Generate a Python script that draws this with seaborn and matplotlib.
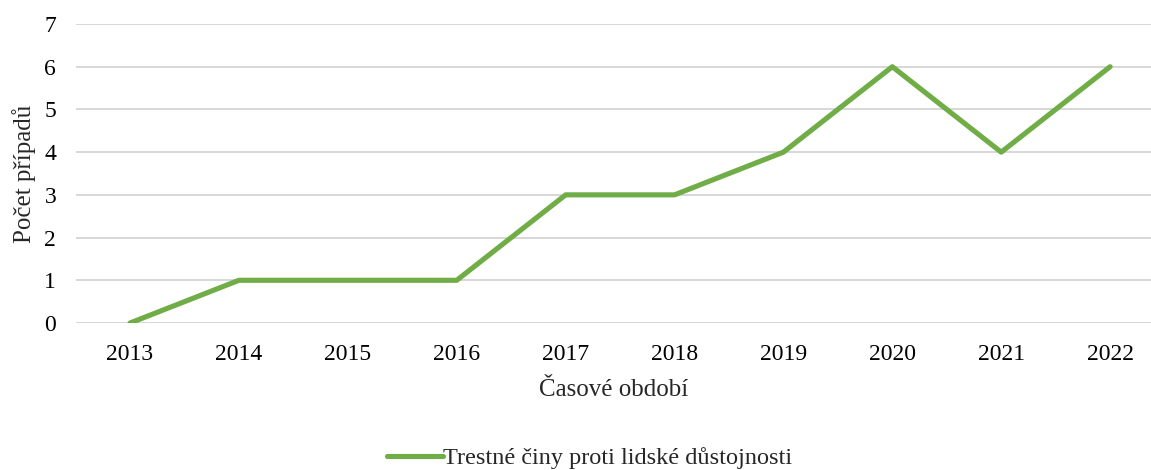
import pandas as pd
import matplotlib.pyplot as plt
import seaborn as sns
from matplotlib.lines import Line2D

# Data
years = ['2013', '2014', '2015', '2016', '2017', '2018', '2019', '2020', '2021', '2022']
cases = [0, 1, 1, 1, 3, 3, 4, 6, 4, 6]
series_name = 'Trestné činy proti lidské důstojnosti'

df = pd.DataFrame({'rok': years, 'pocet': cases, 'serie': series_name})

sns.set_style('white')
plt.rcParams['font.family'] = ['Liberation Serif', 'DejaVu Serif']

fig = plt.figure(figsize=(11.51, 4.70), dpi=100)
ax = fig.add_axes([75.6 / 1151, 1 - 323 / 470, (1151 - 75.6) / 1151, (323 - 24) / 470])

sns.lineplot(data=df, x='rok', y='pocet', hue='serie', palette=['#70AD47'],
             linewidth=3.7, ax=ax, legend=False, solid_capstyle='round')

ax.set_xlim(-0.5, (1151 - 130) / 108.9)
ax.set_ylim(0, 7)
ax.set_yticks(range(0, 8))
ax.yaxis.grid(True, color='#D4D4D4', linewidth=1.3)
ax.set_axisbelow(True)
for s in ax.spines.values():
    s.set_visible(False)
ax.tick_params(axis='both', length=0, labelsize=17, colors='black')
ax.tick_params(axis='x', pad=15)
ax.tick_params(axis='y', pad=14)

ax.set_xlabel('Časové období', fontsize=18, labelpad=10)
ax.set_ylabel('Počet případů', fontsize=18, labelpad=6)

# legend below the plot
handle = Line2D([], [], color='#70AD47', linewidth=3.7, solid_capstyle='round')
fig.legend([handle], [series_name], loc='center', bbox_to_anchor=(0.5126, 1 - 458 / 470),
           frameon=False, fontsize=17.5, handlelength=2.3, handletextpad=0.0)

fig.savefig('out.png', dpi=100)
